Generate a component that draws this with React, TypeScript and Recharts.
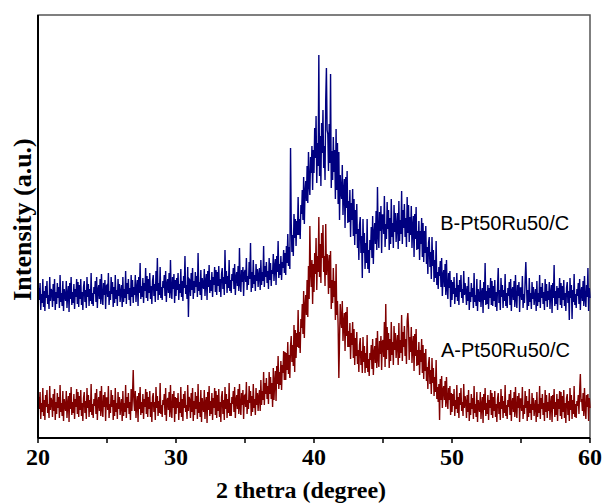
import React from 'react';
import { LineChart, Line, XAxis, YAxis, ReferenceArea, ReferenceDot } from 'recharts';

// 2θ grid: 20.00 .. 60.00 in 0.05° steps (801 points)
const startAngle = 20;
const stepAngle = 0.05;

// Sample B-Pt50Ru50/C (upper, navy), one row per degree (20 readings)
const seriesB: number[] = [
  132,150,138,155,128,144,135,159,131,147,127,152,140,157,134,143,129,161,137,149,
  147,131,154,137,159,128,146,134,155,140,151,130,163,136,145,132,157,127,149,142,
  137,157,130,144,152,126,155,139,161,133,146,135,154,129,149,141,159,134,156,131,
  153,139,159,133,146,128,151,157,136,148,130,161,141,154,132,149,137,165,134,145,
  132,151,144,157,136,161,130,148,153,139,159,134,164,141,133,155,143,158,129,152,
  153,141,165,133,147,138,161,144,156,131,151,135,163,139,148,132,159,142,154,136,
  146,153,131,161,136,149,140,167,134,155,144,159,138,150,132,163,141,158,135,151,
  143,163,136,150,158,132,161,145,175,139,152,141,160,135,155,147,170,140,162,137,
  159,145,165,139,152,134,157,163,142,154,136,167,147,180,138,155,143,171,140,151,
  138,157,150,163,142,167,136,154,159,145,165,140,178,147,139,161,149,164,135,158,
  142,160,148,165,138,154,145,169,141,157,137,162,150,182,144,153,139,171,121,159,
  158,142,165,148,170,139,157,145,166,151,162,141,185,147,156,143,168,138,160,153,
  149,169,142,156,164,138,167,151,173,145,158,147,166,141,161,153,171,146,168,143,
  166,152,172,146,159,141,164,170,149,161,143,188,154,167,145,162,150,178,147,158,
  145,164,157,170,149,174,143,161,166,152,172,147,190,154,146,168,156,171,142,165,
  168,156,180,148,162,153,176,159,195,146,166,150,178,154,163,147,174,157,169,151,
  163,170,148,178,153,166,157,192,151,172,161,176,155,167,149,180,158,175,152,168,
  164,184,157,171,179,153,182,166,197,160,174,163,182,158,176,170,188,165,185,163,
  192,175,204,172,191,169,290,215,186,203,182,224,200,219,192,217,203,241,203,219,
  199,233,224,248,218,261,214,246,257,237,272,235,286,253,243,281,265,292,248,288,
  265,310,280,322,255,295,272,383,262,302,252,315,285,328,270,292,258,338,370,308,
  304,267,314,275,364,250,287,258,301,266,288,239,309,248,295,234,286,218,263,246,
  239,273,223,247,259,210,261,230,267,215,237,216,248,201,235,218,249,202,239,193,
  228,204,234,190,209,178,213,221,185,202,160,219,185,205,169,195,175,219,169,188,
  165,198,188,211,180,222,174,205,215,194,227,188,251,202,190,226,207,232,185,223,
  223,204,242,191,214,199,236,209,228,188,220,194,239,201,215,190,233,206,225,196,
  213,225,189,237,197,218,204,247,194,228,210,234,201,220,191,241,205,233,196,221,
  203,232,190,211,222,181,224,199,231,188,207,189,217,178,207,194,220,181,215,176,
  207,185,212,174,191,164,195,201,171,186,159,201,172,188,156,178,160,197,153,166,
  149,171,162,177,151,180,142,163,168,151,174,143,178,149,139,165,150,167,131,158,
  138,156,144,161,134,150,141,165,137,153,133,158,146,163,140,149,135,167,143,155,
  147,133,152,137,161,128,146,136,155,141,150,130,165,136,143,132,159,127,149,140,
  136,158,131,145,150,125,156,138,175,133,147,134,153,129,150,140,160,133,157,132,
  152,137,158,131,146,127,151,170,135,148,128,160,141,153,130,148,137,164,132,145,
  130,150,142,156,133,159,127,147,151,138,157,131,163,139,130,153,142,156,126,150,
  150,138,162,130,144,135,158,176,153,128,148,132,160,136,145,129,156,139,151,133,
  142,149,127,157,132,145,136,163,130,151,140,155,134,146,128,159,137,154,131,147,
  138,156,129,145,153,125,155,140,173,132,147,134,152,128,150,140,160,133,155,130,
  152,138,158,132,145,127,150,156,135,147,118,160,140,153,119,148,136,164,133,144,
  130,149,142,155,134,159,128,146,151,137,157,132,162,139,131,153,141,170,127,150,
  140,
];

// Sample A-Pt50Ru50/C (lower, maroon), one row per degree (20 readings)
const seriesA: number[] = [
  23,41,29,46,19,35,26,50,22,38,18,43,31,48,25,34,20,52,28,40,
  37,21,44,27,49,18,36,24,45,30,41,20,53,26,35,22,47,17,39,32,
  27,47,20,34,42,16,45,29,51,23,36,25,44,19,39,31,49,24,46,21,
  42,28,48,22,35,17,40,46,25,37,19,50,30,43,21,38,26,54,23,34,
  20,39,32,45,24,49,18,36,41,27,47,22,52,29,21,43,31,46,17,40,
  40,28,52,20,34,25,48,31,43,18,38,22,50,26,35,19,46,29,41,23,
  32,39,17,47,22,35,26,53,20,41,30,45,24,36,18,49,27,44,68,37,
  27,47,20,34,42,16,45,29,51,23,36,25,44,19,39,31,49,24,46,21,
  41,29,47,21,36,16,41,45,26,36,18,51,30,42,22,37,25,55,24,33,
  21,38,33,44,23,50,17,37,40,28,46,21,53,28,20,44,30,47,16,41,
  24,40,30,45,18,36,25,51,21,39,17,44,30,47,26,33,19,53,27,41,
  38,20,45,26,50,17,37,23,46,29,42,19,54,25,36,21,48,16,40,31,
  26,48,19,35,41,15,46,28,52,22,37,24,45,18,40,30,50,23,47,20,
  43,27,49,21,36,16,41,47,24,38,18,51,29,44,20,39,25,55,22,35,
  22,41,34,47,26,51,20,38,43,29,49,24,54,31,23,45,33,48,19,42,
  43,31,56,24,38,29,52,35,47,22,42,26,54,30,39,23,50,33,45,27,
  41,48,27,58,33,47,38,66,33,55,44,60,39,52,34,66,44,61,39,55,
  31,70,38,56,67,37,72,54,82,49,66,53,77,48,73,65,87,58,86,58,
  85,68,96,64,83,60,92,102,76,93,72,113,66,108,80,105,91,128,90,106,
  85,119,110,134,104,147,100,132,143,123,158,121,172,139,212,167,151,178,134,174,
  146,185,164,200,148,182,166,221,161,194,155,205,180,213,166,182,152,214,163,184,
  175,144,183,150,187,129,158,135,170,141,157,118,174,123,137,111,60,97,134,119,
  110,137,97,115,125,87,126,102,131,91,107,91,115,79,105,93,116,80,109,73,
  100,82,106,74,88,66,93,100,73,87,65,101,76,92,65,85,70,103,66,79,
  62,85,78,93,69,99,63,85,92,75,100,70,107,79,71,97,84,102,68,96,
  98,81,116,71,134,79,111,88,105,70,99,77,116,83,96,73,112,88,105,80,
  94,103,73,115,80,98,85,123,77,106,91,112,82,99,74,117,125,110,78,101,
  86,111,75,92,102,67,104,82,109,72,88,73,96,63,88,76,99,65,93,59,
  85,67,89,57,71,49,74,81,54,68,44,80,55,70,42,61,46,78,39,51,
  36,54,18,59,38,62,30,48,52,38,57,31,61,37,29,50,38,52,23,45,
  26,44,32,49,22,38,29,53,25,41,20,45,33,50,27,36,22,54,30,42,
  36,20,43,26,48,17,35,23,44,29,40,19,52,25,34,21,46,16,38,31,
  26,46,19,33,41,15,44,28,50,22,35,24,43,18,38,30,48,23,45,20,
  41,27,47,21,34,16,39,45,24,36,18,49,29,42,20,37,25,53,22,33,
  19,38,31,44,23,48,17,35,40,26,46,21,51,28,20,42,30,45,16,39,
  39,27,51,19,33,24,47,30,42,17,37,21,49,25,34,18,45,28,40,22,
  31,38,16,46,21,34,25,52,19,40,29,44,23,35,17,48,26,43,20,36,
  27,45,18,34,42,16,43,29,49,21,36,23,44,17,39,29,47,22,46,19,
  42,26,48,20,35,15,40,44,23,37,17,50,28,43,19,38,24,52,21,34,
  20,37,32,43,24,47,64,36,39,27,45,22,50,29,19,43,31,44,17,40,
  30,
];

const xTicks = [20, 25, 30, 35, 40, 45, 50, 55, 60];
const xLabelTicks = [20, 30, 40, 50, 60];
const labelB = 'B-Pt50Ru50/C';
const labelA = 'A-Pt50Ru50/C';

const data = seriesB.map((b, i) => ({
  angle: Math.round((startAngle + i * stepAngle) * 100) / 100,
  B: b,
  A: seriesA[i],
}));

const serif = '"Liberation Serif", "Times New Roman", serif';
const sans = '"Liberation Sans", Arial, sans-serif';

export default function App() {
  return (
    <div style={{ position: 'absolute', left: 0, top: 0, background: '#fff' }}>
      <LineChart
        width={604}
        height={504}
        data={data}
        margin={{ top: 15, right: 14, left: 0, bottom: 0 }}
      >
        <ReferenceArea
          x1={20}
          x2={60}
          y1={0}
          y2={423}
          fill="none"
          stroke="#555"
          strokeWidth={1.5}
        />
        <XAxis
          dataKey="angle"
          type="number"
          domain={[20, 60]}
          ticks={xTicks}
          tickFormatter={(v: number) => (xLabelTicks.includes(v) ? String(v) : '')}
          height={66}
          tickSize={5}
          tickMargin={5}
          axisLine={{ stroke: '#000', strokeWidth: 2 }}
          tickLine={{ stroke: '#000', strokeWidth: 1.5 }}
          tick={{ fill: '#000', fontSize: 24, fontWeight: 'bold', fontFamily: serif }}
          label={{
            value: '2 thetra (degree)',
            position: 'insideBottom',
            offset: 6,
            dx: -13,
            fill: '#000',
            fontSize: 24,
            fontWeight: 'bold',
            fontFamily: serif,
          }}
        />
        <YAxis
          type="number"
          domain={[0, 423]}
          width={38}
          tick={false}
          tickLine={false}
          axisLine={{ stroke: '#000', strokeWidth: 2 }}
          label={{
            value: 'Intensity (a.u.)',
            angle: -90,
            position: 'center',
            dx: 3,
            dy: -7,
            fill: '#000',
            fontSize: 26,
            fontWeight: 'bold',
            fontFamily: serif,
          }}
        />
        <Line
          type="linear"
          dataKey="B"
          stroke="#000080"
          strokeWidth={1.4}
          dot={false}
          isAnimationActive={false}
        />
        <Line
          type="linear"
          dataKey="A"
          stroke="#800000"
          strokeWidth={1.4}
          dot={false}
          isAnimationActive={false}
        />
        <ReferenceDot
          x={49.15}
          y={215}
          r={0}
          fill="none"
          stroke="none"
          label={{ value: labelB, position: 'right', offset: 0, fill: '#000', fontSize: 20, fontFamily: sans }}
        />
        <ReferenceDot
          x={49.2}
          y={88}
          r={0}
          fill="none"
          stroke="none"
          label={{ value: labelA, position: 'right', offset: 0, fill: '#000', fontSize: 20, fontFamily: sans }}
        />
      </LineChart>
    </div>
  );
}
